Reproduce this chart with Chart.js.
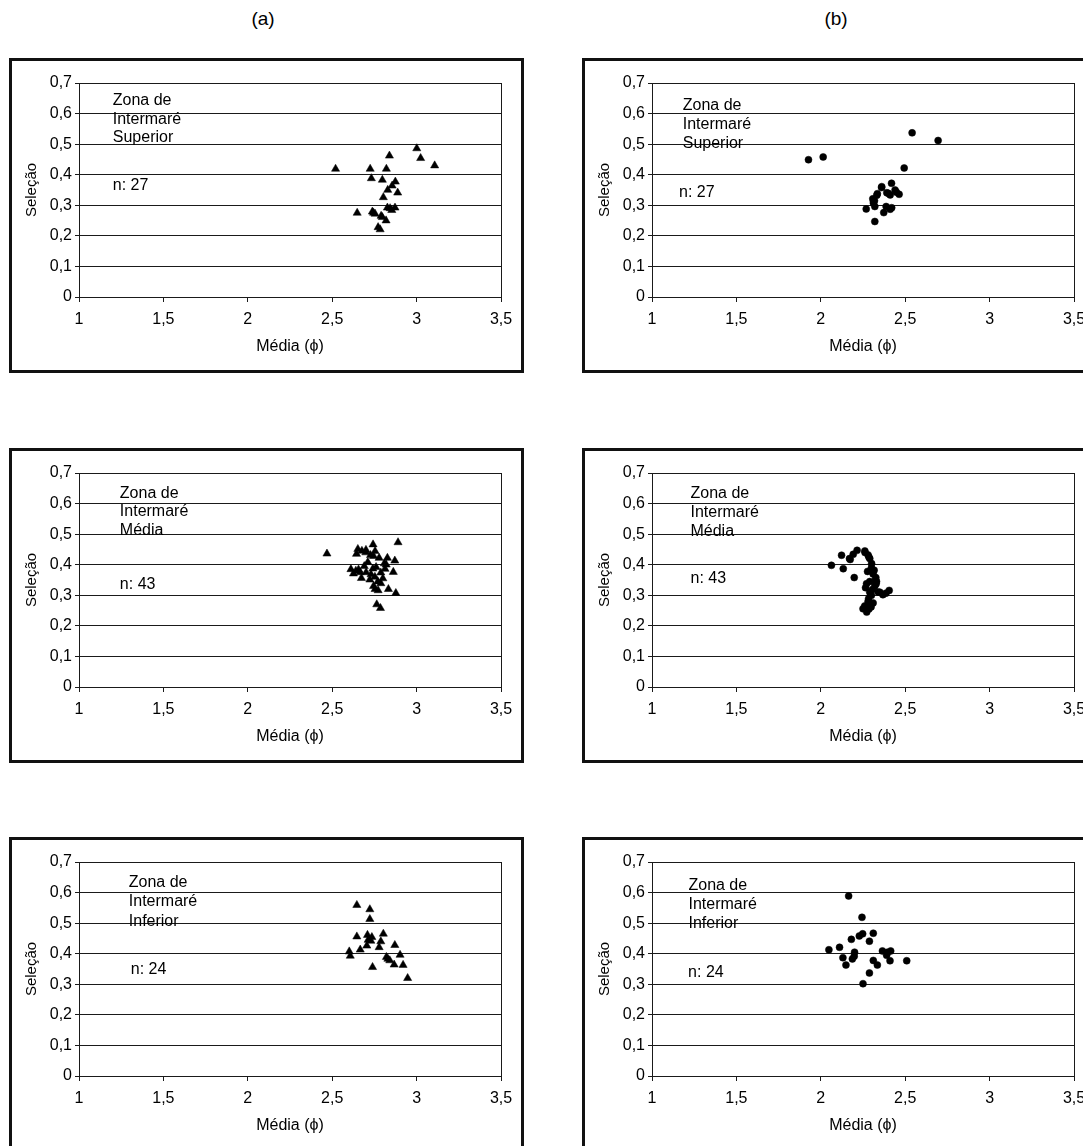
<!DOCTYPE html>
<html>
<head>
<meta charset="utf-8">
<script src="https://cdn.jsdelivr.net/npm/chart.js@4.4.1/dist/chart.umd.min.js"></script>
<style>
  html, body { margin: 0; padding: 0; background: #fff; width: 1083px; height: 1146px; overflow: hidden; position: relative; }
  .col-title { position: absolute; top: 8px; width: 100px; text-align: center; font: 19px "Liberation Sans", Arial, sans-serif; color: #000; line-height: 22px; }
  .panel { position: absolute; width: 509px; height: 309px; border: 3px solid #111; background: #fff; }
  .panel canvas { display: block; }
</style>
</head>
<body>
<div class="col-title" style="left:213px">(a)</div>
<div class="col-title" style="left:786px">(b)</div>

<div class="panel" style="left:9px;top:58px"><canvas id="supA" width="509" height="309"></canvas></div>
<div class="panel" style="left:582px;top:58px"><canvas id="supB" width="509" height="309"></canvas></div>
<div class="panel" style="left:9px;top:448px"><canvas id="medA" width="509" height="309"></canvas></div>
<div class="panel" style="left:582px;top:448px"><canvas id="medB" width="509" height="309"></canvas></div>
<div class="panel" style="left:9px;top:837px"><canvas id="infA" width="509" height="309"></canvas></div>
<div class="panel" style="left:582px;top:837px"><canvas id="infB" width="509" height="309"></canvas></div>

<script>
// Axis ticks shared by all six plots
const xTickValues = [1, 1.5, 2, 2.5, 3, 3.5];
const xTickLabels = ['1', '1,5', '2', '2,5', '3', '3,5'];
const yTickValues = [0, 0.1, 0.2, 0.3, 0.4, 0.5, 0.6, 0.7];
const yTickLabels = ['0', '0,1', '0,2', '0,3', '0,4', '0,5', '0,6', '0,7'];

// Zona de Intermaré Superior — column (a)
const superiorA_media = [3.001, 3.024, 3.107, 2.839, 2.520, 2.725, 2.821, 2.732, 2.797, 2.874, 2.855, 2.829, 2.888, 2.803, 2.827, 2.872, 2.853, 2.648, 2.738, 2.754, 2.797, 2.819, 2.772, 2.784, 2.843, 2.790, 2.745];
const superiorA_selecao = [0.486, 0.454, 0.430, 0.462, 0.419, 0.419, 0.419, 0.388, 0.383, 0.377, 0.364, 0.350, 0.341, 0.326, 0.292, 0.292, 0.284, 0.275, 0.279, 0.272, 0.261, 0.250, 0.228, 0.221, 0.290, 0.265, 0.275];

// Zona de Intermaré Superior — column (b)
const superiorB_media = [1.927, 2.014, 2.541, 2.695, 2.494, 2.419, 2.361, 2.391, 2.448, 2.464, 2.411, 2.332, 2.308, 2.312, 2.320, 2.269, 2.387, 2.411, 2.373, 2.320, 2.318, 2.335, 2.400, 2.420, 2.360, 2.312, 2.440];
const superiorB_selecao = [0.449, 0.458, 0.537, 0.512, 0.422, 0.372, 0.361, 0.341, 0.343, 0.336, 0.334, 0.333, 0.321, 0.307, 0.296, 0.288, 0.296, 0.287, 0.276, 0.247, 0.315, 0.338, 0.339, 0.292, 0.358, 0.312, 0.350];

// Zona de Intermaré Média — column (a)
const mediaA_media = [2.469, 2.890, 2.742, 2.652, 2.676, 2.699, 2.644, 2.754, 2.727, 2.778, 2.827, 2.711, 2.809, 2.871, 2.611, 2.656, 2.741, 2.813, 2.626, 2.666, 2.701, 2.862, 2.788, 2.673, 2.723, 2.753, 2.788, 2.754, 2.772, 2.833, 2.877, 2.764, 2.786, 2.700, 2.745, 2.690, 2.760, 2.730, 2.640, 2.800, 2.745, 2.770, 2.820];
const mediaA_selecao = [0.436, 0.473, 0.466, 0.451, 0.445, 0.440, 0.435, 0.444, 0.431, 0.422, 0.422, 0.408, 0.404, 0.413, 0.385, 0.384, 0.387, 0.386, 0.371, 0.375, 0.375, 0.376, 0.374, 0.356, 0.351, 0.360, 0.339, 0.320, 0.316, 0.320, 0.307, 0.270, 0.258, 0.448, 0.428, 0.395, 0.392, 0.368, 0.380, 0.355, 0.330, 0.345, 0.400];

// Zona de Intermaré Média — column (b)
const mediaB_media = [2.063, 2.123, 2.133, 2.174, 2.192, 2.215, 2.198, 2.261, 2.285, 2.301, 2.277, 2.316, 2.326, 2.328, 2.271, 2.265, 2.306, 2.340, 2.368, 2.405, 2.386, 2.283, 2.290, 2.250, 2.272, 2.298, 2.290, 2.300, 2.310, 2.325, 2.330, 2.320, 2.290, 2.300, 2.280, 2.260, 2.285, 2.310, 2.350, 2.262, 2.280, 2.170, 2.290];
const mediaB_selecao = [0.398, 0.431, 0.387, 0.417, 0.434, 0.447, 0.358, 0.445, 0.425, 0.404, 0.378, 0.382, 0.358, 0.338, 0.338, 0.325, 0.319, 0.311, 0.302, 0.316, 0.307, 0.289, 0.271, 0.256, 0.245, 0.262, 0.420, 0.390, 0.370, 0.350, 0.345, 0.330, 0.310, 0.300, 0.280, 0.265, 0.255, 0.275, 0.310, 0.440, 0.432, 0.420, 0.345];

// Zona de Intermaré Inferior — column (a)
const inferiorA_media = [2.646, 2.723, 2.723, 2.646, 2.709, 2.735, 2.803, 2.729, 2.788, 2.705, 2.666, 2.778, 2.871, 2.601, 2.607, 2.902, 2.821, 2.841, 2.867, 2.920, 2.739, 2.947, 2.713, 2.830];
const inferiorA_selecao = [0.559, 0.545, 0.513, 0.456, 0.461, 0.454, 0.465, 0.442, 0.440, 0.426, 0.413, 0.421, 0.428, 0.407, 0.393, 0.396, 0.389, 0.378, 0.364, 0.363, 0.356, 0.320, 0.445, 0.383];

// Zona de Intermaré Inferior — column (b)
const inferiorB_media = [2.165, 2.244, 2.311, 2.248, 2.228, 2.181, 2.288, 2.048, 2.111, 2.200, 2.131, 2.187, 2.149, 2.365, 2.414, 2.390, 2.311, 2.335, 2.410, 2.509, 2.288, 2.250, 2.395, 2.198];
const inferiorB_selecao = [0.589, 0.519, 0.467, 0.465, 0.458, 0.447, 0.441, 0.413, 0.421, 0.405, 0.387, 0.383, 0.363, 0.409, 0.409, 0.395, 0.378, 0.363, 0.377, 0.377, 0.337, 0.302, 0.405, 0.392];

const FONT_FAMILY = '"Liberation Sans", Arial, Helvetica, sans-serif';
Chart.defaults.font.family = FONT_FAMILY;
Chart.defaults.font.size = 16;
Chart.defaults.color = '#000';

const LINE = '#1a1a1a';

// Writes the zone name block and the sample count inside the plot area
const zoneLabelPlugin = {
  id: 'zoneLabel',
  afterDraw(chart, args, opts) {
    const { ctx, scales: { x, y } } = chart;
    ctx.save();
    ctx.font = '16px ' + FONT_FAMILY;
    ctx.fillStyle = '#000';
    ctx.textAlign = 'left';
    ctx.textBaseline = 'middle';
    const px = x.getPixelForValue(opts.x);
    const py = y.getPixelForValue(opts.y);
    opts.lines.forEach((t, i) => ctx.fillText(t, px, py + i * opts.gap));
    ctx.fillText(opts.countText, x.getPixelForValue(opts.nx), y.getPixelForValue(opts.ny));
    ctx.restore();
  }
};

function makePanel(id, xs, ys, marker, zone, pos) {
  const isTri = marker === 'triangle';
  new Chart(document.getElementById(id), {
    type: 'scatter',
    data: {
      datasets: [{
        data: xs.map((x, i) => ({ x: x, y: ys[i] })),
        pointStyle: marker,
        pointRadius: isTri ? 4.7 : 3.5,
        pointBackgroundColor: '#000',
        pointBorderColor: '#000',
        pointBorderWidth: 0.5
      }]
    },
    options: {
      responsive: false,
      animation: false,
      devicePixelRatio: 1,
      events: [],
      layout: { padding: { left: 0, top: 22, right: 20, bottom: 13 } },
      plugins: {
        legend: { display: false },
        tooltip: { enabled: false },
        zoneLabel: {
          lines: ['Zona de', 'Intermaré', zone],
          countText: 'n: ' + xs.length,
          x: pos.x, y: pos.y, gap: pos.gap, nx: pos.nx, ny: pos.ny
        }
      },
      scales: {
        x: {
          type: 'linear',
          min: 1, max: 3.5,
          afterBuildTicks: s => { s.ticks = xTickValues.map(v => ({ value: v })); },
          afterFit: s => { s.height = 60; },
          ticks: { callback: (v, i) => xTickLabels[i], padding: 8, color: '#000', maxRotation: 0, autoSkip: false },
          grid: {
            color: c => (c.tick && c.tick.value === 3.5) ? LINE : 'rgba(0,0,0,0)',
            tickColor: LINE, tickLength: 5, lineWidth: 1, drawTicks: true
          },
          border: { display: true, color: LINE, width: 1 },
          title: { display: true, text: 'Média (ϕ)', color: '#000', padding: { top: 0, bottom: 1 } }
        },
        y: {
          type: 'linear',
          min: 0, max: 0.7,
          afterBuildTicks: s => { s.ticks = yTickValues.map(v => ({ value: v })); },
          afterFit: s => { s.width = 67; },
          ticks: { callback: (v, i) => yTickLabels[i], padding: 3, color: '#000', autoSkip: false },
          grid: { color: LINE, tickColor: LINE, tickLength: 4, lineWidth: 1, drawTicks: true },
          border: { display: true, color: LINE, width: 1 },
          title: { display: true, text: 'Seleção', color: '#000', font: { size: 15 }, padding: { top: 11, bottom: 0 } }
        }
      }
    },
    plugins: [zoneLabelPlugin]
  });
}

makePanel('supA', superiorA_media, superiorA_selecao, 'triangle', 'Superior', { x: 1.20, y: 0.641, gap: 18.5, nx: 1.20, ny: 0.363 });
makePanel('supB', superiorB_media, superiorB_selecao, 'circle', 'Superior', { x: 1.182, y: 0.625, gap: 19, nx: 1.16, ny: 0.340 });
makePanel('medA', mediaA_media, mediaA_selecao, 'triangle', 'Média', { x: 1.242, y: 0.634, gap: 18.5, nx: 1.242, ny: 0.336 });
makePanel('medB', mediaB_media, mediaB_selecao, 'circle', 'Média', { x: 1.228, y: 0.634, gap: 19, nx: 1.228, ny: 0.356 });
makePanel('infA', inferiorA_media, inferiorA_selecao, 'triangle', 'Inferior', { x: 1.295, y: 0.634, gap: 19.5, nx: 1.307, ny: 0.347 });
makePanel('infB', inferiorB_media, inferiorB_selecao, 'circle', 'Inferior', { x: 1.216, y: 0.622, gap: 19, nx: 1.214, ny: 0.337 });
</script>
</body>
</html>
